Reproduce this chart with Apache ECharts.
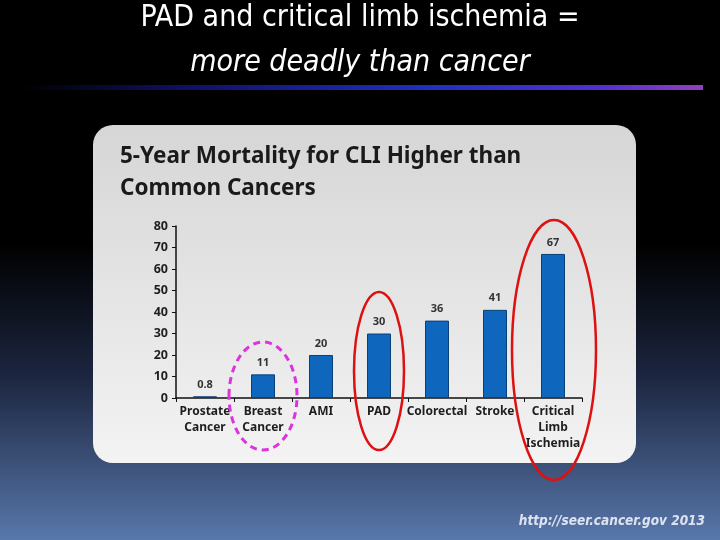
<!DOCTYPE html>
<html><head><meta charset="utf-8">
<script src="https://cdn.jsdelivr.net/npm/echarts@6/dist/echarts.min.js"></script>
<style>html,body{margin:0;padding:0;background:#000}#c{width:720px;height:540px}</style>
</head><body><div id="c"></div>
<script>
var categories = ['Prostate\nCancer', 'Breast\nCancer', 'AMI', 'PAD', 'Colorectal', 'Stroke', 'Critical\nLimb\nIschemia'];
var values = [0.8, 11, 20, 30, 36, 41, 67];
var valueLabels = ['0.8', '11', '20', '30', '36', '41', '67'];
var yTicks = [0, 10, 20, 30, 40, 50, 60, 70, 80];

var chart = echarts.init(document.getElementById('c'));
var option = {
  animation: false,
  backgroundColor: {type:'linear', x:0, y:0, x2:0, y2:1, colorStops:[
    {offset:0, color:'#000000'}, {offset:0.45, color:'#000000'},
    {offset:0.7, color:'#1c2640'}, {offset:1, color:'#5877ab'}]},
  grid: {left:176, right:138, top:226, bottom:142},
  xAxis: {
    type:'category', data:categories,
    axisLine:{lineStyle:{color:'#111', width:1.5}},
    axisTick:{show:true, alignWithLabel:false, length:4, lineStyle:{color:'#111'}},
    axisLabel:{color:'#1e1e1e', fontWeight:'bold', fontSize:12, fontFamily:'Noto Sans', lineHeight:16, margin:6, interval:0}
  },
  yAxis: {
    type:'value', min:0, max:80, interval:10,
    axisLine:{show:true, lineStyle:{color:'#111', width:1.5}},
    axisTick:{show:true, length:4, lineStyle:{color:'#111'}},
    splitLine:{show:false},
    axisLabel:{color:'#1e1e1e', fontWeight:'bold', fontSize:12.5, fontFamily:'Noto Sans', margin:8,
      formatter:function(v){return yTicks.indexOf(v)>=0 ? String(v) : '';}}
  },
  series: [{
    type:'bar', data:values, barWidth:24,
    itemStyle:{color:'#0f67bd', borderColor:'#0a3f78', borderWidth:1},
    label:{show:true, position:'top', distance:6, color:'#333', fontWeight:'bold', fontSize:11, fontFamily:'Noto Sans',
      formatter:function(p){return valueLabels[p.dataIndex];}},
    z:5
  }],
  graphic: [
    {type:'rect', z:-1, shape:{x:93, y:125, width:543, height:338, r:20},
     style:{fill:{type:'linear', x:0, y:0, x2:0, y2:1, colorStops:[{offset:0,color:'#d6d6d6'},{offset:1,color:'#f3f3f3'}]}}},
    {type:'rect', shape:{x:20, y:85, width:683, height:5},
     style:{fill:{type:'linear', x:0, y:0, x2:1, y2:0, colorStops:[
       {offset:0,color:'#000000'},{offset:0.25,color:'#10106a'},{offset:0.6,color:'#2030c0'},{offset:0.85,color:'#5030d0'},{offset:1,color:'#9040c0'}]}}},
    {type:'text', left:'center', top:3, style:{text:'PAD and critical limb ischemia =', fill:'#fff', font:'30px "Liberation Sans Narrow", "DejaVu Sans Condensed", sans-serif'}},
    {type:'text', left:'center', top:48, style:{text:'more deadly than cancer', fill:'#fff', font:'italic 30px "Liberation Sans Narrow", "DejaVu Sans Condensed", sans-serif'}},
    {type:'text', left:120, top:141, style:{text:'5-Year Mortality for CLI Higher than\nCommon Cancers', fill:'#1a1a1a', lineHeight:32, font:'bold 22.5px "Noto Sans", sans-serif'}},
    {type:'text', right:15, top:514, style:{text:'http://seer.cancer.gov 2013', fill:'#dde4f0', font:'italic bold 13.5px "DejaVu Sans Condensed", sans-serif'}}
  ]
};
chart.setOption(option);

// annotation ellipses centered on categories
var cBreast = chart.convertToPixel({xAxisIndex:0}, categories[1]);
var cPad = chart.convertToPixel({xAxisIndex:0}, categories[3]);
var cCli = chart.convertToPixel({xAxisIndex:0}, categories[6]);
var g = option.graphic.concat([
  {type:'ellipse', z:10, shape:{cx:cBreast, cy:396, rx:34, ry:54}, style:{fill:'none', stroke:'#dd33dd', lineWidth:3, lineDash:[7,5]}},
  {type:'ellipse', z:10, shape:{cx:cPad, cy:371, rx:25, ry:79}, style:{fill:'none', stroke:'#dd1111', lineWidth:2.5}},
  {type:'ellipse', z:10, shape:{cx:cCli+1, cy:350, rx:42, ry:130}, style:{fill:'none', stroke:'#dd1111', lineWidth:2.5}}
]);
chart.setOption({graphic:g}, {replaceMerge:['graphic']});
</script></body></html>
